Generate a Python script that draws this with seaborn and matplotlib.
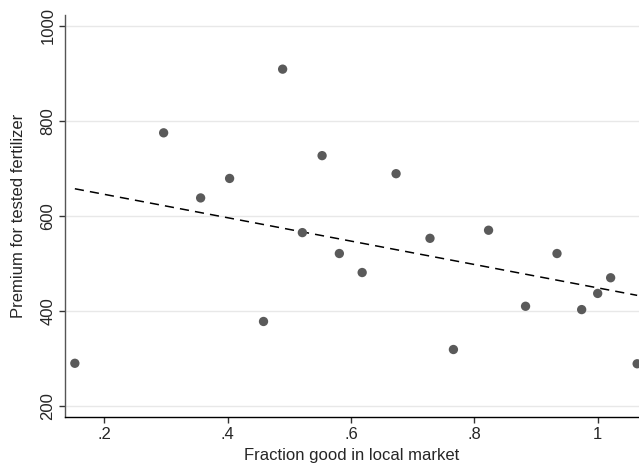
import matplotlib
matplotlib.use("Agg")
import pandas as pd
import matplotlib.pyplot as plt
import seaborn as sns

# Fraction of good fertilizer in the local market vs. premium paid for tested fertilizer
frac_good = [0.152, 0.296, 0.356, 0.403, 0.458, 0.489, 0.521, 0.553, 0.581, 0.618,
             0.673, 0.728, 0.766, 0.823, 0.883, 0.934, 0.974, 1.000, 1.021, 1.064]
premium = [290, 775, 638, 679, 378, 909, 565, 727, 521, 481,
           689, 553, 319, 570, 410, 521, 403, 437, 470, 289]

x_ticks = [0.2, 0.4, 0.6, 0.8, 1.0]
x_tick_labels = [".2", ".4", ".6", ".8", "1"]
y_ticks = [200, 400, 600, 800, 1000]

df = pd.DataFrame({"frac": frac_good, "premium": premium})

sns.set_style("white")
plt.rcParams["font.family"] = ["Liberation Sans", "DejaVu Sans"]

fig = plt.figure(figsize=(6.39, 4.68), dpi=100)
ax = fig.add_axes([0.1017, 0.109, 0.8983, 0.859])

# horizontal grid lines like Stata
for yv in y_ticks:
    ax.axhline(yv, color="#e8e8e8", linewidth=1.0, zorder=0)

sns.regplot(
    data=df, x="frac", y="premium", ax=ax, ci=None,
    scatter_kws={"s": 45, "color": "#5a5a5a", "edgecolor": "none", "alpha": 1, "zorder": 3},
    line_kws={"color": "black", "linestyle": (0, (6, 4)), "linewidth": 1.1, "zorder": 2},
)

ax.set_xlim(0.136, 1.067)
ax.set_ylim(177, 1023)
ax.set_xticks(x_ticks)
ax.set_xticklabels(x_tick_labels)
ax.set_yticks(y_ticks)
ax.set_yticklabels([str(v) for v in y_ticks], rotation=90, va="center")

ax.set_xlabel("Fraction good in local market", fontsize=12, labelpad=4)
ax.set_ylabel("Premium for tested fertilizer", fontsize=12, labelpad=10)
ax.tick_params(axis="both", labelsize=12, length=4, width=1, color="#333333",
               direction="out", bottom=True, left=True)
ax.tick_params(axis="y", pad=3)

for side in ["top", "right"]:
    ax.spines[side].set_visible(False)
ax.spines["left"].set_color("#555555")
ax.spines["bottom"].set_color("black")
ax.spines["left"].set_linewidth(1.0)
ax.spines["bottom"].set_linewidth(1.0)

fig.savefig("out.png", dpi=100)
